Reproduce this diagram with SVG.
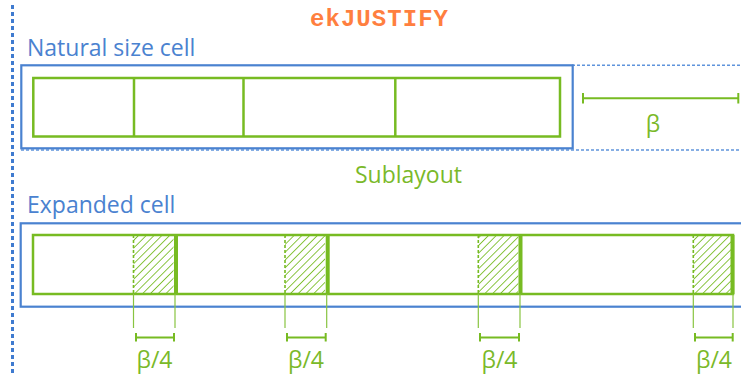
<svg xmlns="http://www.w3.org/2000/svg" width="741" height="375" viewBox="0 0 741 375">
<style>
.blue{fill:none;stroke:#4a82d0;stroke-width:2.2}
.dot{fill:none;stroke:#5f94dc;stroke-width:1.6;stroke-dasharray:3 2}
.vdot{fill:none;stroke:#3f7bd0;stroke-width:3;stroke-dasharray:4 3}
.green{fill:none;stroke:#77bb22;stroke-width:2.5}
.gthin{fill:none;stroke:#88c440;stroke-width:1.2}
.gdash{fill:none;stroke:#77bb22;stroke-width:1.6;stroke-dasharray:3 2}
.bar{stroke:#77bb22;stroke-width:4}
.meas{fill:none;stroke:#77bb22;stroke-width:2}
.lblue{font-family:"Open Sans","Noto Sans",sans-serif;font-size:23px;fill:#4a82d0}
.lgreen{font-family:"Open Sans","Noto Sans",sans-serif;font-size:23px;fill:#7ab929}
.title{font-family:"Liberation Mono","Courier New",monospace;font-weight:bold;font-size:24px;fill:#ff7f3f}
</style>
<defs>
<pattern id="hatch" width="5.5" height="5.5" patternUnits="userSpaceOnUse" patternTransform="rotate(45)">
<line x1="0" y1="0" x2="0" y2="5.5" stroke="#77bb22" stroke-width="1.7"/>
</pattern>
</defs>
<text class="title" x="379" y="25.5" text-anchor="middle" textLength="138" lengthAdjust="spacing">ekJUSTIFY</text>
<line class="vdot" x1="12.5" y1="5" x2="12.5" y2="375"/>
<g id="natural">
<text class="lblue" x="27" y="56">Natural size cell</text>
<line class="dot" x1="572" y1="65.3" x2="741" y2="65.3"/>
<line class="dot" x1="21" y1="150" x2="741" y2="150"/>
<rect class="blue" x="21.3" y="65.3" width="551.4" height="83"/>
<rect class="green" x="33.3" y="78" width="526.7" height="58.5"/>
<line class="green" x1="134" y1="78" x2="134" y2="136.5"/>
<line class="green" x1="243.5" y1="78" x2="243.5" y2="136.5"/>
<line class="green" x1="395.3" y1="78" x2="395.3" y2="136.5"/>
</g>
<g id="beta">
<line class="meas" x1="583" y1="98.3" x2="738.3" y2="98.3"/>
<line class="meas" x1="583" y1="93" x2="583" y2="103.5"/>
<line class="meas" x1="738.3" y1="93" x2="738.3" y2="103.5"/>
<text class="lgreen" x="653" y="131.5" text-anchor="middle">β</text>
</g>
<text class="lgreen" x="408.5" y="183.3" text-anchor="middle">Sublayout</text>
<g id="expanded">
<text class="lblue" x="27" y="213">Expanded cell</text>
<rect class="blue" x="20.7" y="223.3" width="740" height="83.4"/>
<rect x="133.5" y="235" width="40" height="59" fill="url(#hatch)"/>
<rect x="285" y="235" width="40" height="59" fill="url(#hatch)"/>
<rect x="478.3" y="235" width="40" height="59" fill="url(#hatch)"/>
<rect x="693.3" y="235" width="39" height="59" fill="url(#hatch)"/>
<rect class="green" x="33" y="235" width="700" height="59"/>
<line class="gdash" x1="133.5" y1="235" x2="133.5" y2="294"/>
<line class="gdash" x1="285" y1="235" x2="285" y2="294"/>
<line class="gdash" x1="478.3" y1="235" x2="478.3" y2="294"/>
<line class="gdash" x1="693.3" y1="235" x2="693.3" y2="294"/>
<line class="bar" x1="176" y1="235" x2="176" y2="294"/>
<line class="bar" x1="327.7" y1="235" x2="327.7" y2="294"/>
<line class="bar" x1="520.5" y1="235" x2="520.5" y2="294"/>
<line class="bar" x1="732.5" y1="235" x2="732.5" y2="294"/>
</g>
<g id="connectors">
<line class="gthin" x1="133.5" y1="294" x2="133.5" y2="328"/>
<line class="gthin" x1="175" y1="294" x2="175" y2="328"/>
<line class="gthin" x1="285" y1="294" x2="285" y2="328"/>
<line class="gthin" x1="326.7" y1="294" x2="326.7" y2="328"/>
<line class="gthin" x1="478.3" y1="294" x2="478.3" y2="328"/>
<line class="gthin" x1="520" y1="294" x2="520" y2="328"/>
<line class="gthin" x1="693.3" y1="294" x2="693.3" y2="328"/>
<line class="gthin" x1="733" y1="294" x2="733" y2="328"/>
</g>
<g id="quarters">
<path class="meas" d="M136,337.5H174M136,333V341.5M174,333V341.5"/>
<path class="meas" d="M287,337.5H325.7M287,333V341.5M325.7,333V341.5"/>
<path class="meas" d="M480,337.5H519M480,333V341.5M519,333V341.5"/>
<path class="meas" d="M695,337.5H732.7M695,333V341.5M732.7,333V341.5"/>
<text class="lgreen" x="154.5" y="368" text-anchor="middle">β/4</text>
<text class="lgreen" x="306" y="368" text-anchor="middle">β/4</text>
<text class="lgreen" x="499.5" y="368" text-anchor="middle">β/4</text>
<text class="lgreen" x="714" y="368" text-anchor="middle">β/4</text>
</g>
</svg>
